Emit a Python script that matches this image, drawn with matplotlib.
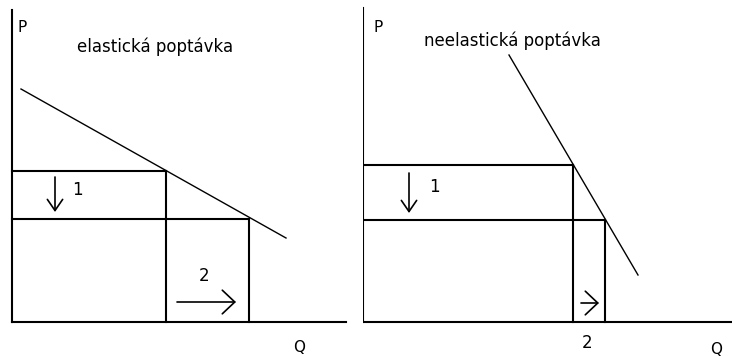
"""
Elasticita poptávky: elastická vs. neelastická poptávka, změna ceny (1) a množství (2).
"""

import matplotlib.pyplot as plt

# ============================================================
# DATA  (units: pixels from the origin of each panel)
# ============================================================
TITLES = ['elastická poptávka', 'neelastická poptávka']

# demand line end points (Q, P)
DEMAND_Q = [[9, 274], [146, 275]]
DEMAND_P = [[233, 84], [267, 47]]

# price levels before/after, quantities before/after
PRICE_HI = [151, 157]
PRICE_LO = [103, 102]
QTY_LO   = [154, 210]
QTY_HI   = [237, 242]

# axis extents
AXIS_Q_MAX = [334, 369]
AXIS_P_MAX = [312, 314]

# arrow "1" (price drop) and arrow "2" (quantity rise)
ARROW1_Q  = [43, 46]
ARROW1_P  = [[145, 110], [149, 109]]
LABEL1_QP = [(65, 132), (71, 135)]
ARROW2_Q  = [[165, 224], [218, 236]]
ARROW2_P  = [20, 19]
LABEL2_QP = [(192, 46), (224, -21)]

LABEL_P_QP = [(10, 294), (15, 294)]
LABEL_Q_QP = [(287, -25), (353, -28)]
TITLE_QP   = [(143, 275), (149, 281)]

# ============================================================
# FIGURE
# ============================================================
W, H = 732, 356
fig = plt.figure(figsize=(W / 100, H / 100), dpi=100)
plt.rcParams['font.family'] = ['DejaVu Sans']

# panel placement in pixels: (left edge, right edge, origin x, origin y)
panels = [(0, 363, 12, 322), (363, 732, 0, 322)]

LW = 1.5
for i, (px0, px1, ox, oy) in enumerate(panels):
    ax = fig.add_axes([px0 / W, 0, (px1 - px0) / W, 1])
    ax.set_xlim(-ox, px1 - px0 - ox)
    ax.set_ylim(-(H - oy), oy)
    ax.axis('off')

    # axes
    ax.plot([0, 0], [0, AXIS_P_MAX[i]], color='black', lw=LW)
    ax.plot([0, AXIS_Q_MAX[i]], [0, 0], color='black', lw=LW)

    # demand curve
    ax.plot(DEMAND_Q[i], DEMAND_P[i], color='black', lw=1.0)

    # price and quantity guides
    ax.plot([0, QTY_LO[i]], [PRICE_HI[i], PRICE_HI[i]], color='black', lw=LW)
    ax.plot([0, QTY_HI[i]], [PRICE_LO[i], PRICE_LO[i]], color='black', lw=LW)
    ax.plot([QTY_LO[i], QTY_LO[i]], [0, PRICE_HI[i]], color='black', lw=LW)
    ax.plot([QTY_HI[i], QTY_HI[i]], [0, PRICE_LO[i]], color='black', lw=LW)

    # arrows
    ax.annotate('', xy=(ARROW1_Q[i], ARROW1_P[i][1]), xytext=(ARROW1_Q[i], ARROW1_P[i][0]),
                arrowprops=dict(arrowstyle='->,head_length=0.8,head_width=0.55',
                                mutation_scale=10, lw=1.2, color='black',
                                shrinkA=0, shrinkB=0))
    ax.annotate('', xy=(ARROW2_Q[i][1], ARROW2_P[i]), xytext=(ARROW2_Q[i][0], ARROW2_P[i]),
                arrowprops=dict(arrowstyle='->,head_length=0.9,head_width=0.85',
                                mutation_scale=10, lw=1.2, color='black',
                                shrinkA=0, shrinkB=0))

    # labels
    ax.text(*LABEL1_QP[i], '1', fontsize=12, ha='center', va='center')
    ax.text(*LABEL2_QP[i], '2', fontsize=12, ha='center', va='center')
    ax.text(*LABEL_P_QP[i], 'P', fontsize=11, ha='center', va='center')
    ax.text(*LABEL_Q_QP[i], 'Q', fontsize=11, ha='center', va='center')
    ax.text(*TITLE_QP[i], TITLES[i], fontsize=12, ha='center', va='center')

fig.savefig('out.png', dpi=100)
